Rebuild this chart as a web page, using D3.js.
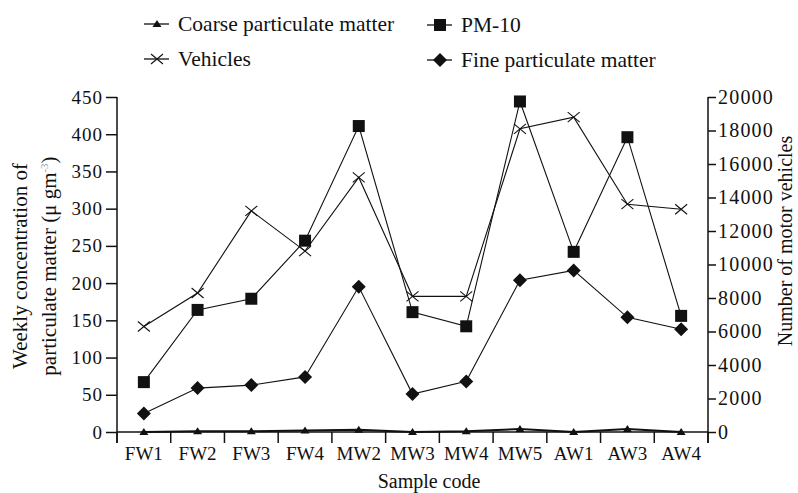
<!DOCTYPE html>
<html>
<head>
<meta charset="utf-8">
<script src="https://cdn.jsdelivr.net/npm/d3@7/dist/d3.min.js"></script>
<style>
  html, body { margin: 0; padding: 0; background: #fff; }
  svg { display: block; }
  text { font-family: "Liberation Serif", "DejaVu Serif", serif; fill: #111; }
</style>
</head>
<body>
<svg id="chart" width="798" height="493"></svg>
<script>
// ---- data ----
const categories = ["FW1", "FW2", "FW3", "FW4", "MW2", "MW3", "MW4", "MW5", "AW1", "AW3", "AW4"];
const coarse   = [0, 1, 1, 2, 3, 0, 1, 4, 0, 4, 0];
const pm10     = [67, 164, 179, 257, 411, 161, 142, 444, 242, 396, 156];
const fine     = [25, 59, 63, 74, 195, 51, 68, 204, 217, 154, 138];
const vehicles = [6300, 8300, 13200, 10800, 15200, 8100, 8100, 18100, 18800, 13600, 13300];
const leftTicks  = [0, 50, 100, 150, 200, 250, 300, 350, 400, 450];
const rightTicks = [0, 2000, 4000, 6000, 8000, 10000, 12000, 14000, 16000, 18000, 20000];
const legendItems = [
  { name: "Coarse particulate matter", marker: "triangle" },
  { name: "PM-10", marker: "square" },
  { name: "Vehicles", marker: "times" },
  { name: "Fine particulate matter", marker: "diamond" }
];

// ---- layout ----
const svg = d3.select("#chart");
const X0 = 117, X1 = 708, Y0 = 432, Y1 = 97;
const ink = "#111";

const x = d3.scaleBand().domain(categories).range([X0, X1]).padding(0);
const yL = d3.scaleLinear().domain([0, 450]).range([Y0, Y1]);
const yR = d3.scaleLinear().domain([0, 20000]).range([Y0, Y1]);
const cx = c => x(c) + x.bandwidth() / 2;

// markers
const markerPath = {
  square:   "M-6,-6H6V6H-6Z",
  diamond:  "M0,-7L7,0L0,7L-7,0Z",
  triangle: "M0,-4L4.5,3L-4.5,3Z",
  times:    "M-6,-5L6,5M-6,5L6,-5"
};
function drawMarker(g, type, px, py) {
  const p = g.append("path").attr("d", markerPath[type])
    .attr("transform", `translate(${px},${py})`);
  if (type === "times") p.attr("fill", "none").attr("stroke", ink).attr("stroke-width", 1.1);
  else p.attr("fill", ink).attr("stroke", "none");
}

// ---- left axis ----
const gL = svg.append("g").attr("transform", `translate(${X0},0)`)
  .call(d3.axisLeft(yL).tickValues(leftTicks).tickSize(11).tickSizeOuter(0).tickPadding(3));
gL.selectAll("text").style("font-size", "19px").style("letter-spacing", "1px")
  .style("font-family", '"Liberation Serif", serif');
gL.selectAll("line, path").attr("stroke", ink).attr("stroke-width", 1.5);
gL.select(".domain").attr("d", `M0,${Y1}V${Y0 + 11}`);

// ---- right axis ----
const gR = svg.append("g").attr("transform", `translate(${X1},0)`)
  .call(d3.axisRight(yR).tickValues(rightTicks).tickFormat(d3.format("d"))
    .tickSize(8).tickSizeOuter(0).tickPadding(2));
gR.selectAll("text").style("font-size", "20px").style("letter-spacing", "1.2px")
  .style("font-family", '"Liberation Serif", serif');
gR.selectAll("line, path").attr("stroke", ink).attr("stroke-width", 1.5);
gR.select(".domain").attr("d", `M0,${Y1}V${Y0 + 11}`);

// ---- bottom axis ----
const gB = svg.append("g").attr("transform", `translate(0,${Y0})`)
  .call(d3.axisBottom(x).tickSize(0).tickSizeOuter(0).tickPadding(15));
gB.select(".domain").attr("stroke", ink).attr("stroke-width", 1.5).attr("d", `M${X0},0H${X1}`);
gB.selectAll("text").style("font-size", "19px").style("font-family", '"Liberation Serif", serif');
const bounds = categories.map(c => x(c)).concat([X1]);
gB.selectAll(".bt").data(bounds).join("line").attr("class", "bt")
  .attr("x1", d => d).attr("x2", d => d).attr("y1", 0).attr("y2", 11)
  .attr("stroke", ink).attr("stroke-width", 1.5);

// ---- axis titles ----
svg.append("text").attr("x", 429).attr("y", 488).attr("text-anchor", "middle")
  .style("font-size", "20px").text("Sample code");

const yt = svg.append("g").attr("transform", "translate(0,266) rotate(-90)");
yt.append("text").attr("x", 0).attr("y", 27).attr("text-anchor", "middle")
  .style("font-size", "21px").text("Weekly concentration of");
const t2 = yt.append("text").attr("x", 0).attr("y", 56).attr("text-anchor", "middle")
  .style("font-size", "21px");
t2.append("tspan").text("particulate matter (μ gm");
t2.append("tspan").attr("dy", -8).style("font-size", "11px").attr("fill", "#999").text("-3");
t2.append("tspan").attr("dy", 8).text(")");

svg.append("text").attr("transform", "translate(792,241) rotate(-90)")
  .attr("text-anchor", "middle").style("font-size", "20px").text("Number of motor vehicles");

// ---- series ----
const plot = svg.append("g");
function series(values, yScale, marker, width) {
  const pts = categories.map((c, i) => [cx(c), yScale(values[i])]);
  plot.append("path").attr("d", d3.line()(pts)).attr("fill", "none")
    .attr("stroke", ink).attr("stroke-width", width);
  pts.forEach(p => drawMarker(plot, marker, p[0], p[1]));
}
series(vehicles, yR, "times", 1.1);
series(pm10, yL, "square", 1.1);
series(fine, yL, "diamond", 1.1);
series(coarse, yL, "triangle", 2);

// ---- legend ----
const legPos = [[144, 24], [427, 25], [144, 59], [427, 60]];
legendItems.forEach((it, i) => {
  const [lx, ly] = legPos[i];
  const g = svg.append("g");
  g.append("line").attr("x1", lx).attr("x2", lx + 25).attr("y1", ly).attr("y2", ly)
    .attr("stroke", ink).attr("stroke-width", 1.3);
  drawMarker(g, it.marker, lx + 13, ly);
  g.append("text").attr("x", lx + 34).attr("y", ly + 7).style("font-size", "21.5px").text(it.name);
});
</script>
</body>
</html>
